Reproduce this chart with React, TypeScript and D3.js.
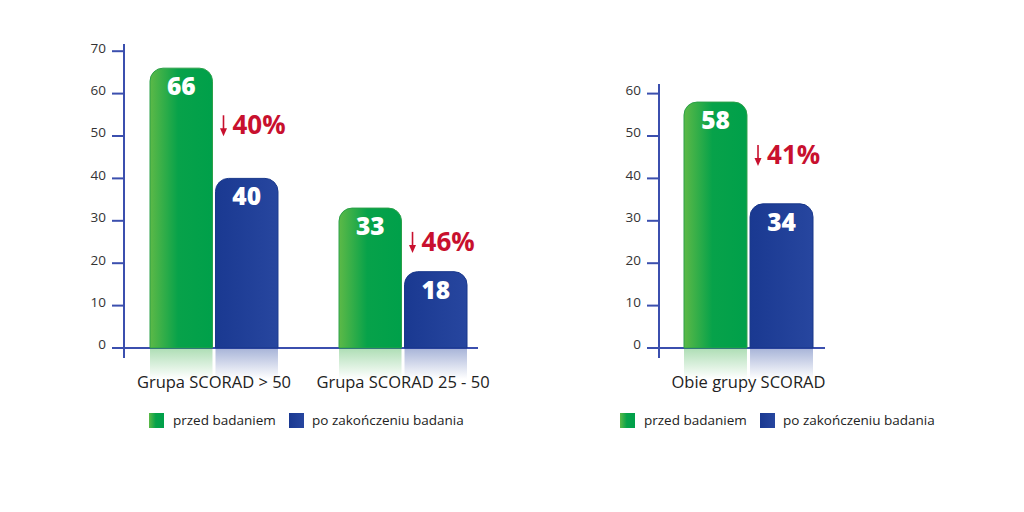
import React from "react";
import * as d3 from "d3";

const leftCategories = ["Grupa SCORAD > 50", "Grupa SCORAD 25 - 50"];
const leftBefore = [66, 33];
const leftAfter = [40, 18];
const leftDrops = ["40%", "46%"];
const leftTicks = [0, 10, 20, 30, 40, 50, 60, 70];

const rightCategories = ["Obie grupy SCORAD"];
const rightBefore = [58];
const rightAfter = [34];
const rightDrops = ["41%"];
const rightTicks = [0, 10, 20, 30, 40, 50, 60];

const seriesNames = ["przed badaniem", "po zakończeniu badania"];

const AXIS = "#3b4fae";
const RED = "#c8102e";
const FONT = "'Open Sans', 'Noto Sans', sans-serif";

const y = d3.scaleLinear().domain([0, 10]).range([348, 305.6]);

function topRounded(x: number, yTop: number, w: number, yBottom: number, r: number) {
  const p = d3.path();
  p.moveTo(x, yBottom);
  p.lineTo(x, yTop + r);
  p.arcTo(x, yTop, x + r, yTop, r);
  p.lineTo(x + w - r, yTop);
  p.arcTo(x + w, yTop, x + w, yTop + r, r);
  p.lineTo(x + w, yBottom);
  p.closePath();
  return p.toString();
}

function Panel(props: {
  id: string;
  axisX: number;
  axisTop: number;
  axisEnd: number;
  x0: number;
  x1: number;
  pad: number;
  categories: string[];
  before: number[];
  after: number[];
  drops: string[];
  ticks: number[];
  legendX: number;
  legendGap: number;
}) {
  const { id, axisX, axisTop, axisEnd, x0, x1, pad, categories, before, after, drops, ticks, legendX, legendGap } = props;
  const x = d3.scaleBand().domain(categories).range([x0, x1]).paddingInner(pad).paddingOuter(0);
  const sub = d3.scaleBand().domain(["b", "a"]).range([0, x.bandwidth()]).paddingInner(0.046);
  const bw = sub.bandwidth();
  const base = y(0);
  return (
    <g>
      <line x1={axisX} x2={axisX} y1={axisTop} y2={base + 10} stroke={AXIS} strokeWidth={2} />
      <line x1={axisX - 12} x2={axisEnd} y1={base} y2={base} stroke={AXIS} strokeWidth={2} />
      {ticks.map((t) => (
        <g key={t}>
          <line x1={axisX - 12} x2={axisX} y1={y(t)} y2={y(t)} stroke={AXIS} strokeWidth={2} />
          <text x={axisX - 18} y={y(t)} dy="0.1em" textAnchor="end" fontSize={13.5} fill="#333" fontFamily={FONT}>
            {t}
          </text>
        </g>
      ))}
      {categories.map((c, i) => {
        const gx = x(c)!;
        const bx = gx + sub("b")!;
        const ax = gx + sub("a")!;
        const vals = [before[i], after[i]];
        const mid = (y(vals[0]) + y(vals[1])) / 2 + 2;
        return (
          <g key={c}>
            <rect x={bx} y={base + 1} width={bw} height={30} fill={`url(#${id}-gr)`} />
            <rect x={ax} y={base + 1} width={bw} height={30} fill={`url(#${id}-br)`} />
            <path d={topRounded(bx, y(vals[0]), bw, base, 13)} fill={`url(#${id}-g)`} stroke="#2aa048" strokeWidth={1} />
            <path d={topRounded(ax, y(vals[1]), bw, base, 13)} fill={`url(#${id}-b)`} stroke="#18378a" strokeWidth={1} />
            {[bx, ax].map((xx, k) => (
              <text
                key={k}
                x={xx + bw / 2}
                y={y(vals[k]) + 27}
                textAnchor="middle"
                fontSize={24.5}
                fontWeight={800}
                fill="#fff"
                fontFamily={FONT}
              >
                {vals[k]}
              </text>
            ))}
            <g transform={`translate(${ax + 5},${mid})`}>
              <line x1={3} x2={3} y1={-10} y2={6} stroke={RED} strokeWidth={1.6} />
              <path d="M-0.5,3 L3,11 L6.5,3 Z" fill={RED} />
              <text x={12} y={9} fontSize={26} fontWeight={700} fill={RED} fontFamily={FONT}>
                {drops[i]}
              </text>
            </g>
            <text x={gx + x.bandwidth() / 2} y={388} textAnchor="middle" fontSize={16.5} fill="#222" fontFamily={FONT}>
              {c}
            </text>
          </g>
        );
      })}
      <rect x={legendX} y={413} width={15} height={15} fill={`url(#${id}-g)`} />
      <text x={legendX + 24} y={425} fontSize={13.5} fill="#222" fontFamily={FONT}>
        {seriesNames[0]}
      </text>
      <rect x={legendX + legendGap} y={413} width={15} height={15} fill={`url(#${id}-b)`} />
      <text x={legendX + legendGap + 23} y={425} fontSize={13.5} fill="#222" fontFamily={FONT}>
        {seriesNames[1]}
      </text>
    </g>
  );
}

function Defs({ id }: { id: string }) {
  return (
    <>
      <linearGradient id={`${id}-g`} x1="0" x2="1" y1="0" y2="0">
        <stop offset="0" stopColor="#5cb947" />
        <stop offset="0.45" stopColor="#07a24a" />
        <stop offset="1" stopColor="#00a04a" />
      </linearGradient>
      <linearGradient id={`${id}-b`} x1="0" x2="1" y1="0" y2="0">
        <stop offset="0" stopColor="#1a3991" />
        <stop offset="1" stopColor="#27469f" />
      </linearGradient>
      <linearGradient id={`${id}-gr`} x1="0" x2="0" y1="0" y2="1">
        <stop offset="0" stopColor="#39ae4a" stopOpacity={0.4} />
        <stop offset="1" stopColor="#39ae4a" stopOpacity={0} />
      </linearGradient>
      <linearGradient id={`${id}-br`} x1="0" x2="0" y1="0" y2="1">
        <stop offset="0" stopColor="#2a48a0" stopOpacity={0.4} />
        <stop offset="1" stopColor="#2a48a0" stopOpacity={0} />
      </linearGradient>
    </>
  );
}

export default function App() {
  return (
    <svg width={1024} height={512} style={{ position: "absolute", left: 0, top: 0, background: "#fff" }}>
      <defs>
        <Defs id="l" />
        <Defs id="r" />
      </defs>
      <Panel
        id="l"
        axisX={124}
        axisTop={44}
        axisEnd={478}
        x0={150}
        x1={467}
        pad={0.323}
        categories={leftCategories}
        before={leftBefore}
        after={leftAfter}
        drops={leftDrops}
        ticks={leftTicks}
        legendX={149}
        legendGap={140}
      />
      <Panel
        id="r"
        axisX={659}
        axisTop={84}
        axisEnd={825}
        x0={684}
        x1={813}
        pad={0}
        categories={rightCategories}
        before={rightBefore}
        after={rightAfter}
        drops={rightDrops}
        ticks={rightTicks}
        legendX={620}
        legendGap={140}
      />
    </svg>
  );
}
